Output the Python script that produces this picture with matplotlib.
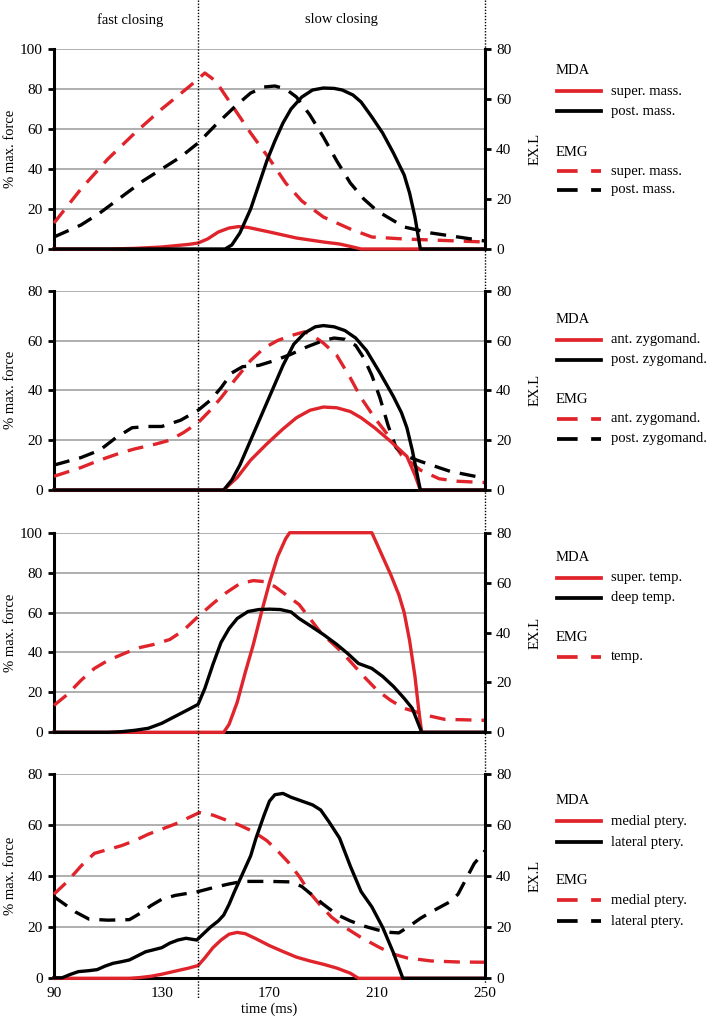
import matplotlib
matplotlib.use("Agg")
import matplotlib.pyplot as plt
import matplotlib.transforms as mtransforms
from matplotlib.lines import Line2D

plt.rcParams['font.family'] = ['Liberation Serif', 'DejaVu Serif']
plt.rcParams['font.size'] = 10.5

RED = '#e0242b'
BLACK = '#000000'

# ---- panel 1: masseter ----
mass_sup_mda_t = [90, 110, 120, 130, 140, 143.5, 147, 151, 155, 158.5, 162, 170, 180, 190, 196, 200, 204, 250]
mass_sup_mda_v = [0, 0, 0.3, 1, 2.3, 3, 5, 8.5, 10.5, 11.2, 10.8, 8.5, 5.5, 3.5, 2.5, 1.3, 0, 0]
mass_post_mda_t = [90, 153.5, 156, 159, 163, 166, 169, 172, 175, 178, 182, 186, 190, 194, 197, 201, 204, 208, 212, 216, 220, 222, 224, 226, 250]
mass_post_mda_v = [0, 0, 2, 8, 20, 32, 44, 54, 63, 70, 76, 79.5, 80.5, 80.3, 79.5, 77, 73.5, 66, 58, 48, 37, 28, 16, 0, 0]
mass_sup_emg_t = [90, 100, 110, 120, 130, 140, 143.5, 146, 150, 157, 163, 170, 176, 182, 190, 200, 208, 220, 240, 250]
mass_sup_emg_v = [13, 30, 45, 58, 70, 81, 85, 88, 84, 70, 58, 45, 33, 24, 16, 10, 6, 5, 4, 3.5]
mass_post_emg_t = [90, 100, 107, 115, 123, 130, 137, 143.5, 150, 157, 163, 168, 172, 176, 180, 185, 190, 195, 200, 205, 210, 215, 220, 230, 240, 250]
mass_post_emg_v = [6, 12, 18, 26, 34, 40, 46, 53, 62, 71, 78, 81, 81.5, 80, 76, 67, 56, 44, 33, 25, 19, 15, 11, 8, 6, 4]

# ---- panel 2: zygomaticomandibularis ----
zyg_ant_mda_t = [90, 153, 158, 163, 169, 175, 180, 185, 190, 195, 200, 204, 209, 215, 221, 224, 226, 250]
zyg_ant_mda_v = [0, 0, 5, 12, 18.5, 24.5, 29, 32, 33.3, 33, 31.5, 29, 25, 19.5, 13.5, 6, 0, 0]
zyg_post_mda_t = [90, 153, 156, 159, 163, 167, 171, 175, 179, 183, 187, 190, 194, 198, 202, 206, 211, 216, 219, 221, 223, 226, 250]
zyg_post_mda_v = [0, 0, 4, 10, 20, 30, 40, 50, 58.5, 63, 65.5, 66, 65.5, 64, 61, 56, 47, 37.5, 31, 25, 16, 0, 0]
zyg_ant_emg_t = [90, 100, 107, 115, 120, 128, 133, 138, 143.5, 148, 152, 157, 163, 168, 173, 178, 183, 186, 190, 195, 200, 204, 209, 214, 219, 226, 233, 240, 250]
zyg_ant_emg_v = [5.5, 9, 12, 15, 16.5, 18.5, 20, 23, 27, 32, 37, 44, 52, 57, 60, 62, 63.5, 62, 59, 54, 45, 37, 29, 22, 14, 8, 4.5, 3.5, 3]
zyg_post_emg_t = [90, 100, 107, 113, 119, 125, 130, 137, 143.5, 148, 152, 156, 160, 166, 172, 178, 184, 190, 194, 198, 202, 205, 208, 211, 214, 217, 221, 226, 237, 250]
zyg_post_emg_v = [10, 13, 16, 21, 25, 25.5, 25.5, 28, 32, 36, 41, 47, 49.5, 50, 52, 54.5, 57.5, 60, 61, 60.5, 58, 53, 46, 37, 26, 17, 13.5, 11.5, 7.5, 4.7]

# ---- panel 3: temporalis ----
temp_sup_mda_t = [90, 153, 155, 158, 161, 164, 167, 170, 173, 176, 177.5, 208, 211, 215, 218, 220, 222, 224, 225.5, 226.5, 250]
temp_sup_mda_v = [0, 0, 4, 15, 30, 44, 60, 75, 88, 97, 100, 100, 91, 79, 69, 60, 46, 28, 10, 0, 0]
temp_deep_mda_t = [90, 110, 115, 120, 125, 130, 135, 140, 143.5, 146, 149, 152, 155, 158, 162, 166, 170, 174, 178, 181, 185, 190, 195, 199, 203, 206, 208, 212, 216, 220, 223, 226.5, 250]
temp_deep_mda_v = [0, 0, 0.3, 1, 2, 4.5, 8, 11.5, 14, 22, 34, 45, 52, 57, 60.5, 61.5, 61.7, 61.5, 60.3, 57, 53.5, 49, 44, 39.5, 34.5, 33, 32, 28, 23, 17, 12, 0, 0]
temp_emg_t = [90, 95, 100, 105, 110, 117, 122, 127, 133, 138, 143.5, 149, 154, 159, 164, 168, 172, 176, 181, 185, 189, 193, 197, 201, 205, 210, 215, 220, 225, 230, 235, 250]
temp_emg_v = [13.5, 19, 26, 32, 36, 40, 42.5, 44, 46.5, 51, 58, 64.5, 70, 74.5, 76, 75.5, 73, 69, 64, 57, 50, 45, 40, 34, 28, 21, 16, 12, 10, 8, 6.5, 6]

# ---- panel 4: pterygoids ----
pt_med_mda_t = [90, 118, 122, 126, 130, 135, 140, 143.5, 146, 149, 152, 155, 158, 161, 165, 170, 175, 180, 185, 190, 195, 200, 203, 250]
pt_med_mda_v = [0, 0, 0.3, 0.8, 1.6, 2.8, 4, 5, 8, 12, 15, 17.3, 18, 17.5, 15.5, 12.8, 10.5, 8.3, 6.8, 5.5, 4, 2, 0, 0]
pt_lat_mda_t = [90, 93, 96, 99, 103, 106, 109, 112, 115, 118, 121, 124, 127, 130, 133, 136, 139, 143, 145, 148, 151, 153, 155, 157, 160, 163, 165, 168, 170, 172, 175, 178, 182, 186, 189, 192, 196, 200, 204, 208, 212, 216, 219.5, 250]
pt_lat_mda_v = [0.2, 0.2, 1.5, 2.6, 3, 3.4, 4.8, 5.9, 6.5, 7.2, 8.8, 10.4, 11.2, 12, 13.8, 15, 15.7, 15, 17, 20, 22.5, 24.8, 29, 34, 41, 48, 55, 64, 69.5, 72, 72.5, 71, 69.5, 68, 66, 61.5, 55, 44, 34, 28, 20, 10, 0, 0]
pt_med_emg_t = [90, 95, 100, 105, 110, 115, 120, 125, 130, 135, 140, 144, 149, 154, 159, 164, 169, 173, 177, 181, 185, 189, 193, 198, 204, 211, 216, 221, 230, 240, 250]
pt_med_emg_v = [33, 38, 44, 49, 50.5, 52, 54, 56.5, 58.5, 60.5, 63, 65, 64, 62, 60, 57.5, 54, 50, 45.5, 40, 33.5, 28.5, 24, 20, 16, 12, 9.5, 8, 6.8, 6.4, 6.3]
pt_lat_emg_t = [90, 94, 98, 103, 110, 118, 122, 126, 130, 135, 143.5, 150, 155, 160, 170, 178, 182, 186, 190, 195, 200, 205, 210, 215, 218, 222, 226, 230, 234, 237, 240, 243, 246, 250]
pt_lat_emg_v = [32, 29, 26, 23.2, 22.8, 23, 25.5, 28.5, 31, 32.5, 34, 35.8, 37, 38, 38, 37.8, 36, 32.5, 29, 25, 22.5, 20.5, 19, 18, 17.8, 20.5, 23.5, 26, 28.3, 30, 33, 39, 45, 50]

left_ylims = [100, 80, 100, 80]
x_ticks = [90, 130, 170, 210, 250]
phase_split = 143.5

panels = [
    dict(mda=[(mass_sup_mda_t, mass_sup_mda_v, RED, 'super. mass.'), (mass_post_mda_t, mass_post_mda_v, BLACK, 'post. mass.')],
         emg=[(mass_sup_emg_t, mass_sup_emg_v, RED, 'super. mass.'), (mass_post_emg_t, mass_post_emg_v, BLACK, 'post. mass.')],
         top=49, bot=249, leg=[22, 42, 62, 103, 122, 141]),
    dict(mda=[(zyg_ant_mda_t, zyg_ant_mda_v, RED, 'ant. zygomand.'), (zyg_post_mda_t, zyg_post_mda_v, BLACK, 'post. zygomand.')],
         emg=[(zyg_ant_emg_t, zyg_ant_emg_v, RED, 'ant. zygomand.'), (zyg_post_emg_t, zyg_post_emg_v, BLACK, 'post. zygomand.')],
         top=290.7, bot=490, leg=[29, 49, 69, 109, 128, 148]),
    dict(mda=[(temp_sup_mda_t, temp_sup_mda_v, RED, 'super. temp.'), (temp_deep_mda_t, temp_deep_mda_v, BLACK, 'deep temp.')],
         emg=[(temp_emg_t, temp_emg_v, RED, 'temp.')],
         top=532.7, bot=732.3, leg=[25, 45, 65, 105, 124, 144]),
    dict(mda=[(pt_med_mda_t, pt_med_mda_v, RED, 'medial ptery.'), (pt_lat_mda_t, pt_lat_mda_v, BLACK, 'lateral ptery.')],
         emg=[(pt_med_emg_t, pt_med_emg_v, RED, 'medial ptery.'), (pt_lat_emg_t, pt_lat_emg_v, BLACK, 'lateral ptery.')],
         top=774.3, bot=978.3, leg=[26, 47, 68, 106, 126, 147]),
]

W, H = 710, 1021
fig = plt.figure(figsize=(W / 100, H / 100), dpi=100)

LW = 2.4
DASH = (4.8, 3.0)
FS = 10.5
x_left, x_right = 54, 485
ax_w = x_right - x_left

axes = []
for i, p in enumerate(panels):
    ax = fig.add_axes([x_left / W, 1 - p['bot'] / H, ax_w / W, (p['bot'] - p['top']) / H])
    axes.append(ax)
    for t, v, c, _ in p['emg']:
        ax.plot(t, v, color=c, lw=LW, dashes=DASH, clip_on=False, zorder=3)
    for t, v, c, _ in p['mda']:
        ax.plot(t, v, color=c, lw=LW, clip_on=False, zorder=4)
    ax.set_xlim(90, 250)
    ax.set_ylim(0, left_ylims[i])
    ax.set_yticks(range(0, left_ylims[i] + 1, 20))
    ax.yaxis.grid(True, color='#9a9a9a', lw=1.1)
    ax.set_axisbelow(True)
    for s in ['top', 'right']:
        ax.spines[s].set_visible(False)
    ax.spines['left'].set_linewidth(2.2)
    ax.spines['bottom'].set_linewidth(2.2)
    ax.tick_params(axis='y', direction='out', length=4, width=2, pad=4, labelsize=11)
    ax.set_xticks(x_ticks)
    if i == 3:
        ax.tick_params(axis='x', length=0, pad=6, labelsize=11)
        ax.set_xlabel('time (ms)', fontsize=FS, labelpad=2)
    else:
        ax.tick_params(axis='x', length=0, labelbottom=False)
    ax.set_ylabel('% max. force', fontsize=FS)
    ax.yaxis.set_label_coords((17 - x_left) / ax_w, 0.5)

    ax2 = ax.twinx()
    ax2.set_ylim(0, 80)
    ax2.set_yticks(range(0, 81, 20))
    for s in ['top', 'left', 'bottom']:
        ax2.spines[s].set_visible(False)
    ax2.spines['right'].set_linewidth(2.2)
    ax2.tick_params(axis='y', direction='out', length=4, width=2, pad=4, labelsize=11)
    ax2.set_ylabel('EX.L', fontsize=FS)
    ax2.yaxis.set_label_coords((529 - x_left) / ax_w, 0.5)

    # legend block, drawn by hand
    top = p['top']
    offs = p['leg']
    lx0, lx1, tx, hx = 557 / W, 601 / W, 611 / W, 556 / W
    fig.text(hx, 1 - (top + offs[0]) / H, 'MDA', fontsize=FS, va='center', ha='left')
    for k, (_, _, c, lab) in enumerate(p['mda']):
        y = 1 - (top + offs[1 + k]) / H
        fig.add_artist(Line2D([lx0, lx1], [y, y], transform=fig.transFigure, color=c, lw=LW + 0.3))
        fig.text(tx, y, lab, fontsize=FS, va='center', ha='left')
    fig.text(hx, 1 - (top + offs[3]) / H, 'EMG', fontsize=FS, va='center', ha='left')
    for k, (_, _, c, lab) in enumerate(p['emg']):
        y = 1 - (top + offs[4 + k]) / H
        fig.add_artist(Line2D([lx0, lx1], [y, y], transform=fig.transFigure, color=c, lw=LW + 0.3, dashes=(5.5, 3.6)))
        fig.text(tx, y, lab, fontsize=FS, va='center', ha='left')

# phase separators
tr = mtransforms.blended_transform_factory(axes[3].transData, fig.transFigure)
fig.add_artist(Line2D([phase_split, phase_split], [1.0, 1 - 998 / H], transform=tr, color='black', lw=1.0, ls=(0, (1, 1.2)), zorder=10))
fig.add_artist(Line2D([250, 250], [1.0, 1 - 984 / H], transform=tr, color='black', lw=1.0, ls=(0, (1, 1.2)), zorder=10))

fig.text(130 / W, 1 - 20 / H, 'fast closing', fontsize=FS, ha='center', va='center')
fig.text(341 / W, 1 - 20 / H, 'slow closing', fontsize=FS, ha='center', va='center')

fig.savefig('out.png', dpi=100)
